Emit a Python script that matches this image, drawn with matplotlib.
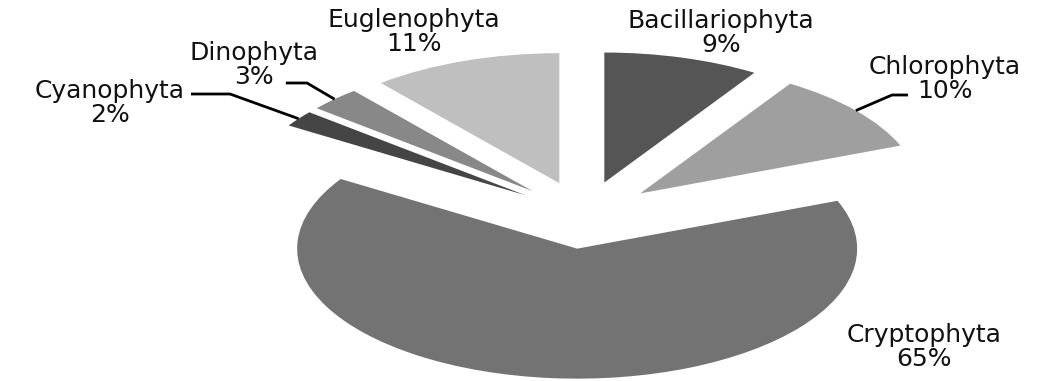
import numpy as np
import matplotlib.pyplot as plt

# algae groups and their share of the community (%)
groups = ['Bacillariophyta', 'Chlorophyta', 'Cryptophyta',
          'Cyanophyta', 'Dinophyta', 'Euglenophyta']
shares = [9, 10, 65, 2, 3, 11]
colors = ['#555555', '#9f9f9f', '#737373', '#454545', '#888888', '#bfbfbf']

# label centres in pixels (x, y from top)
label_pos = {
    'Bacillariophyta': (721, 33),
    'Chlorophyta': (945, 79),
    'Cryptophyta': (924, 347),
    'Cyanophyta': (110, 103),
    'Dinophyta': (254, 65),
    'Euglenophyta': (414, 32),
}
# leader lines: horizontal run next to the label, then to the wedge
leaders = {
    'Cyanophyta': [(None, 94), (230, 94)],
    'Dinophyta': [(None, 83), (307, 83)],
    'Chlorophyta': [(908, 95), (892, 95)],
}

W, H = 1057, 381
CX, CY = 584, 215      # pie centre, pixels
SX, SY = 280, 130      # pixels per unit radius (flattened pie)


def px(x, y):
    return (x - CX) / SX, (CY - y) / SY


fig = plt.figure(figsize=(W / 100, H / 100), dpi=100)
ax = fig.add_axes([0, 0, 1, 1])

wedges, _ = ax.pie(shares, explode=[0.26] * len(shares), colors=colors,
                   startangle=90, counterclock=False,
                   wedgeprops=dict(linewidth=0))
ax.set_aspect('auto')
ax.set_xlim(-CX / SX, (W - CX) / SX)
ax.set_ylim(-(H - CY) / SY, CY / SY)
ax.axis('off')

renderer = fig.canvas.get_renderer()
for name, val, w in zip(groups, shares, wedges):
    x, y = px(*label_pos[name])
    txt = ax.text(x, y, f'{name}\n{val}%', ha='center', va='center',
                  fontsize=18, family='DejaVu Sans', linespacing=0.98,
                  color='#111111')
    if name in leaders:
        (x0, y0), elbow = leaders[name]
        if x0 is None:
            # start just right of the label's widest line
            bb = txt.get_window_extent(renderer)
            if name == 'Dinophyta':
                # the line leaves from the percentage, not the name
                pct = ax.text(x, y, f'\n{val}%', ha='center', va='center',
                              fontsize=18, family='DejaVu Sans',
                              linespacing=0.98, alpha=0)
                bb = pct.get_window_extent(renderer)
                pct.remove()
                x0 = bb.x1 + 12
            else:
                x0 = bb.x1 + 6
            x0 = min(x0, elbow[0] - 6)
        mid = np.deg2rad((w.theta1 + w.theta2) / 2)
        ex = w.center[0] + w.r * np.cos(mid)
        ey = w.center[1] + w.r * np.sin(mid)
        pts = [px(x0, y0), px(*elbow), (ex, ey)]
        ax.plot([p[0] for p in pts], [p[1] for p in pts],
                color='black', lw=2.0, solid_capstyle='butt')

fig.savefig('out.png', dpi=100)
